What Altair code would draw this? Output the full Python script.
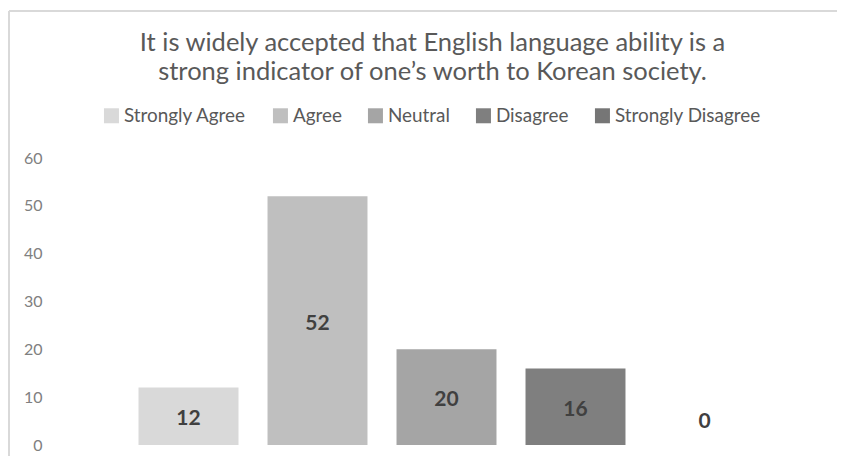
import altair as alt
import pandas as pd

categories = ["Strongly Agree", "Agree", "Neutral", "Disagree", "Strongly Disagree"]
values = [12, 52, 20, 16, 0]
colors = ["#d9d9d9", "#bfbfbf", "#a5a5a5", "#7f7f7f", "#767676"]

df = pd.DataFrame({"cat": categories, "v": values})
df["lab"] = df["v"].apply(lambda v: max(v / 2 - 0.6, 4.8))

FONT = "Lato"

base = alt.Chart(df)

bars = base.mark_bar().encode(
    x=alt.X("cat:N", sort=categories, axis=None,
            scale=alt.Scale(paddingInner=0.225, paddingOuter=0.1125)),
    y=alt.Y("v:Q", scale=alt.Scale(domain=[0, 60]),
            axis=alt.Axis(values=[0, 10, 20, 30, 40, 50, 60], title=None, grid=False,
                          domain=False, ticks=False, labelPadding=82,
                          labelFont=FONT, labelFontSize=16, labelColor="#808080")),
    color=alt.Color("cat:N", sort=categories,
                    scale=alt.Scale(domain=categories, range=colors),
                    legend=alt.Legend(title=None, orient="none", direction="horizontal",
                                      legendX=-22, legendY=-52, symbolType="square",
                                      symbolSize=225, symbolStrokeWidth=0,
                                      labelFont=FONT, labelFontSize=18.9, labelColor="#595959",
                                      labelOffset=3, columnPadding=24, labelLimit=300)),
)

labels = base.mark_text(font=FONT, fontSize=21, fontWeight="bold", color="#404040",
                        baseline="middle").encode(
    x=alt.X("cat:N", sort=categories),
    y=alt.Y("lab:Q"),
    text=alt.Text("v:Q"),
)

frame = pd.DataFrame({"a": [0]})
left_rule = alt.Chart(frame).mark_rule(color="#d9d9d9", strokeWidth=2).encode(
    x=alt.value(-115), y=alt.value(-147), y2=alt.value(320))
top_rule = alt.Chart(frame).mark_rule(color="#d9d9d9", strokeWidth=2).encode(
    x=alt.value(-115), x2=alt.value(720), y=alt.value(-147))

chart = alt.layer(left_rule, top_rule, bars, labels).properties(
    width=645, height=287,
    title=alt.TitleParams(
        ["It is widely accepted that English language ability is a",
         "strong indicator of one\u2019s worth to Korean society."],
        font=FONT, fontSize=25.5, fontWeight="normal", color="#595959",
        anchor="middle", frame="group", dx=-14, offset=-75, lineHeight=29),
    autosize=alt.AutoSizeParams(type="none"),
    padding={"left": 116, "top": 150, "right": 68, "bottom": 11},
).configure_view(stroke=None)

chart.save("out.html", embed_options={"renderer": "svg", "actions": False})
